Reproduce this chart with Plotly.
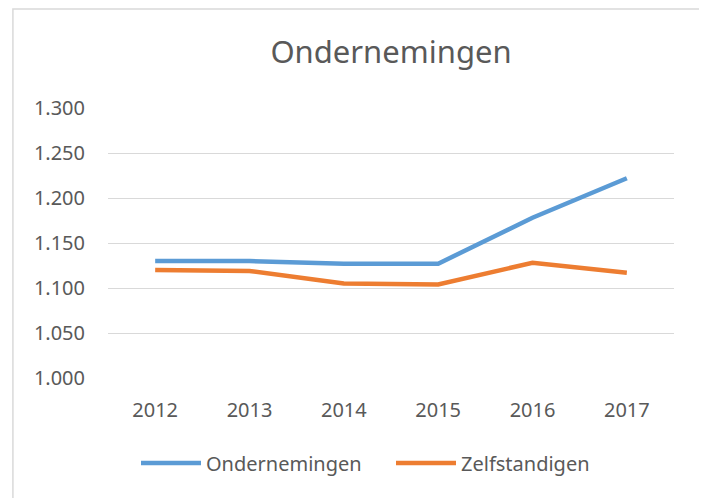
import plotly.graph_objects as go

years = ["2012", "2013", "2014", "2015", "2016", "2017"]
ondernemingen = [1130, 1130, 1127, 1127, 1178, 1222]
zelfstandigen = [1120, 1119, 1105, 1104, 1128, 1117]

fig = go.Figure()
fig.add_trace(go.Scatter(x=years, y=ondernemingen, mode="lines", name="Ondernemingen",
                         line=dict(color="#5B9BD5", width=4.5)))
fig.add_trace(go.Scatter(x=years, y=zelfstandigen, mode="lines", name="Zelfstandigen",
                         line=dict(color="#ED7D31", width=4.5)))

# chart frame like in Excel
fig.add_shape(type="rect", xref="paper", yref="paper",
              x0=-0.168, x1=1.051, y0=-0.46, y1=1.367,
              line=dict(color="#D9D9D9", width=1.5), layer="below")

# page body has an 8px margin, so the figure is a bit smaller than the window
fig.update_layout(
    width=699, height=490,
    margin=dict(l=100, r=33, t=100, b=120),
    paper_bgcolor="white", plot_bgcolor="white",
    separators=",.",
    font=dict(family="Noto Sans", color="#595959", size=20),
    title=dict(text="Ondernemingen", x=0.5, xanchor="center", xref="paper",
               y=0.91, yanchor="middle", font=dict(size=31, color="#595959")),
    showlegend=True,
    legend=dict(orientation="h", x=0.5, xanchor="center", y=-0.315, yanchor="middle",
                font=dict(size=20, color="#595959"), itemwidth=60,
                entrywidth=180, entrywidthmode="pixels"),
)
fig.update_xaxes(type="category", range=[-0.5, 5.5], showgrid=False, showline=False,
                 ticks="", ticklabelstandoff=18, zeroline=False)
fig.update_yaxes(range=[1000, 1300], dtick=50, tickformat=",", showgrid=True,
                 gridcolor="#D9D9D9", gridwidth=1.2, zeroline=False, showline=False,
                 ticks="", ticklabelstandoff=22)

fig.write_html("out.html")
